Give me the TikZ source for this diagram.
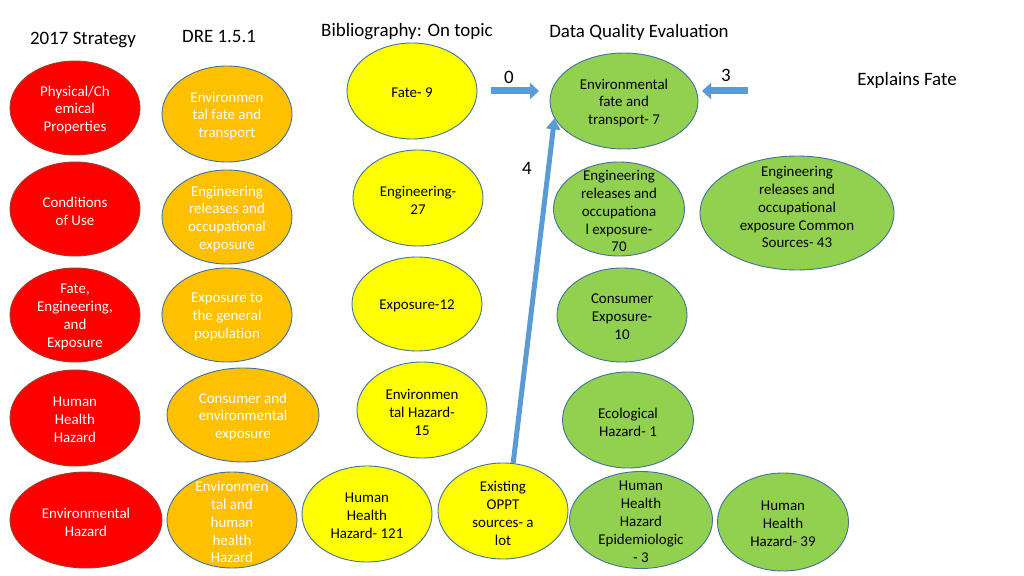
\documentclass[tikz,border=0pt]{standalone}
\usepackage{fontspec}
\setmainfont{Carlito}
\usetikzlibrary{shapes.geometric,arrows.meta}
\definecolor{cred}{HTML}{FF0000}
\definecolor{cora}{HTML}{FFC000}
\definecolor{cyel}{HTML}{FFFF00}
\definecolor{cgrn}{HTML}{92D050}
\definecolor{outl}{HTML}{41719C}
\definecolor{redoutl}{HTML}{A0402A}
\definecolor{arrowblue}{HTML}{5B9BD5}
\begin{document}
\begin{tikzpicture}[x=1bp,y=-1bp,
  ell/.style={ellipse, draw=outl, line width=0.9bp, inner sep=0pt},
  esz/.style 2 args={minimum width=#1bp, minimum height=#2bp},
  redell/.style={ell, fill=cred, draw=redoutl},
  oraell/.style={ell, fill=cora},
  yelell/.style={ell, fill=cyel},
  grnell/.style={ell, fill=cgrn},
  lbl/.style={align=center, inner sep=0pt, yshift=-2bp, font=\fontsize{15}{18}\selectfont},
  wlbl/.style={lbl, text=white},
  title/.style={inner sep=0pt, yshift=-2bp, font=\fontsize{19}{23}\selectfont},
  barrow/.style={draw=arrowblue, line width=7bp, -{Triangle[width=16bp,length=9bp]}},
  barrowthin/.style={draw=arrowblue, line width=5bp, -{Triangle[width=14bp,length=11bp]}}
]
\useasboundingbox (0,0) rectangle (1024,576);

% titles
\node[title] (t1) at (83,38) {2017 Strategy};
\node[title] (t2) at (219,34) {DRE 1.5.1};
\node[title] (t3) at (407,30) {Bibliography: On topic};
\node[title] (t4) at (639,30) {Data Quality Evaluation};
\node[title] (t5) at (907,78) {Explains Fate};

% red column
\node[redell, esz={130}{94}, label={[wlbl]center:{Physical/Ch\\emical\\Properties}}] (r1) at (75,108) {};
\node[redell, esz={130}{94}, label={[wlbl]center:{Conditions\\of Use}}] (r2) at (75,209) {};
\node[redell, esz={130}{94}, label={[wlbl]center:{Fate,\\Engineering,\\and\\Exposure}}] (r3) at (75,315) {};
\node[redell, esz={130}{96}, label={[wlbl]center:{Human\\Health\\Hazard}}] (r4) at (75,418) {};
\node[redell, esz={152}{96}, label={[wlbl]center:{Environmental\\Hazard}}] (r5) at (86,520) {};

% orange column
\node[oraell, esz={130}{96}, label={[wlbl]center:{Environmen\\tal fate and\\transport}}] (o1) at (227,114) {};
\node[oraell, esz={130}{94}, label={[wlbl]center:{Engineering\\releases and\\occupational\\exposure}}] (o2) at (227,217) {};
\node[oraell, esz={130}{94}, label={[wlbl]center:{Exposure to\\the general\\population}}] (o3) at (227,315) {};
\node[oraell, esz={152}{94}, label={[wlbl]center:{Consumer and\\environmental\\exposure}}] (o4) at (243,415) {};
\node[oraell, esz={130}{96}, label={[wlbl]center:{Environmen\\tal and\\human\\health\\Hazard}}] (o5) at (232,520) {};

% yellow column
\node[yelell, esz={130}{96}, label={[lbl]center:{Fate- 9}}] (y1) at (412,91) {};
\node[yelell, esz={130}{96}, label={[lbl]center:{Engineering-\\27}}] (y2) at (418,198) {};
\node[yelell, esz={130}{94}, label={[lbl]center:{Exposure-12}}] (y3) at (417,304) {};
\node[yelell, esz={130}{96}, label={[lbl]center:{Environmen\\tal Hazard-\\15}}] (y4) at (422,410) {};
\node[yelell, esz={130}{96}, label={[lbl]center:{Human\\Health\\Hazard- 121}}] (y5) at (367,514) {};
\node[yelell, esz={130}{96}, label={[lbl]center:{Existing\\OPPT\\sources- a\\lot}}] (y6) at (503,511) {};

% green column
\node[grnell, esz={148}{96}, label={[lbl]center:{Environmental\\fate and\\transport- 7}}] (g1) at (624,101) {};
\node[grnell, esz={131}{94}, label={[lbl]center:{Engineering\\releases and\\occupationa\\l exposure-\\70}}] (g2) at (619,209) {};
\node[grnell, esz={130}{94}, label={[lbl]center:{Consumer\\Exposure-\\10}}] (g3) at (622,315) {};
\node[grnell, esz={131}{96}, label={[lbl]center:{Ecological\\Hazard- 1}}] (g4) at (628,420) {};
\node[grnell, esz={143}{97}, label={[lbl]center:{Human\\Health\\Hazard\\Epidemiologic\\- 3}}] (g5) at (641,520) {};
\node[grnell, esz={131}{98}, label={[lbl]center:{Human\\Health\\Hazard- 39}}] (g6) at (783,522) {};
\node[grnell, esz={194}{114}, label={[lbl,yshift=8bp]center:{Engineering\\releases and\\occupational\\exposure Common\\Sources- 43}}] (g7) at (797,213) {};

% arrow labels
\node[title] (n0) at (509,75) {0};
\node[title] (n3) at (726,73) {3};
\node[title] (n4) at (527,166) {4};

% arrows
\coordinate (a0s) at (491,91);
\coordinate (a0e) at (539,91);
\coordinate (a3s) at (748,91);
\coordinate (a3e) at (702,91);
\draw[barrow] (a0s) -- (a0e);
\draw[barrow] (a3s) -- (a3e);
\draw[barrowthin] (y6.78) -- (g1.194);
\end{tikzpicture}
\end{document}
